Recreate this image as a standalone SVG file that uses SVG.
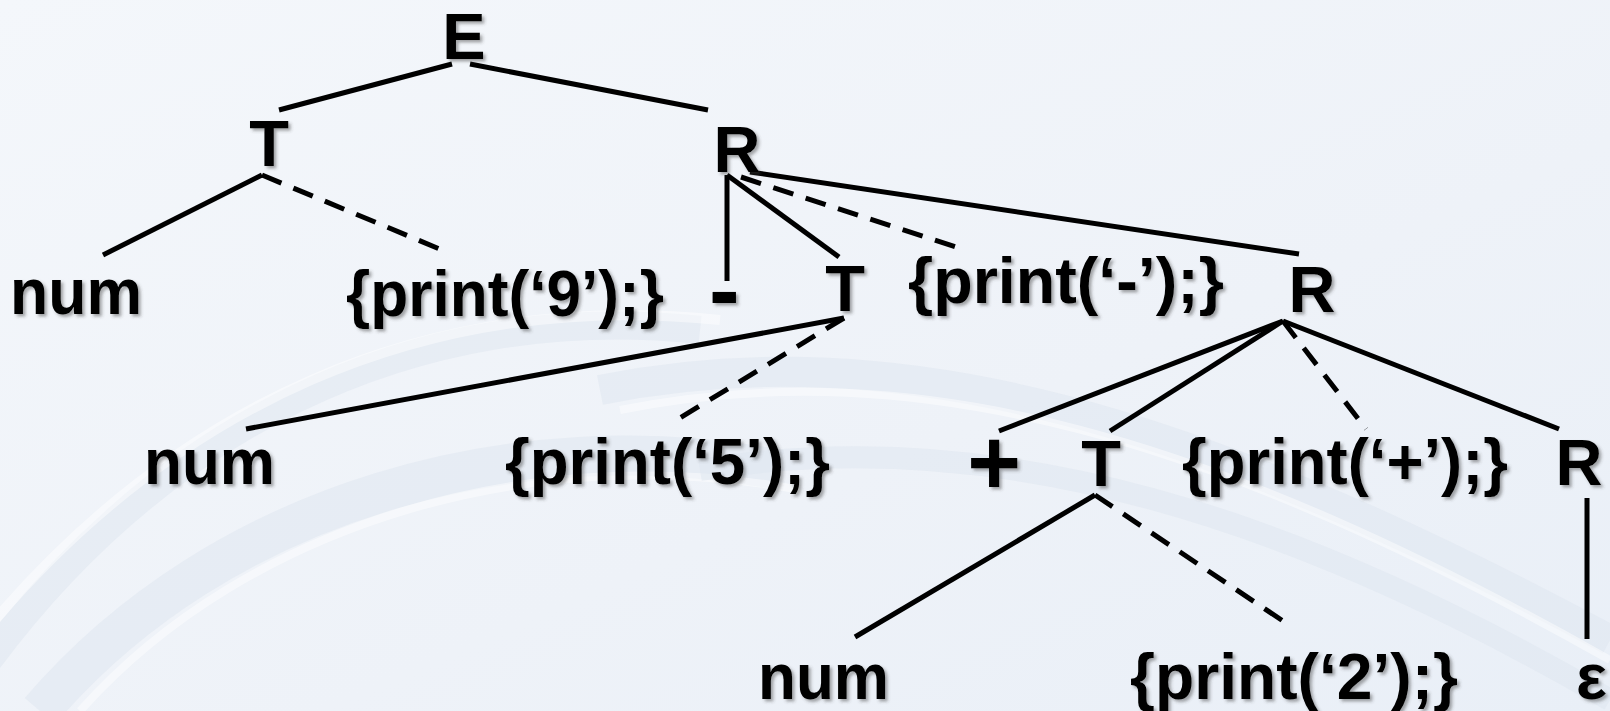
<svg xmlns="http://www.w3.org/2000/svg" width="1610" height="711" viewBox="0 0 1610 711">
<defs>
<linearGradient id="bg" x1="0" y1="0" x2="1" y2="1">
<stop offset="0" stop-color="#f4f7fb"/>
<stop offset="0.6" stop-color="#eef2f8"/>
<stop offset="1" stop-color="#e9eff7"/>
</linearGradient>
<filter id="sh" x="-10%" y="-10%" width="130%" height="140%">
<feDropShadow dx="2.5" dy="2.5" stdDeviation="1.5" flood-color="#404040" flood-opacity="0.45"/>
</filter>
<style>
.t{font-family:"Liberation Sans",Arial,sans-serif;font-weight:bold;font-size:65px;fill:#000;filter:url(#sh)}
.c{text-anchor:middle}
.big{font-size:92px}
.ln{stroke:#000;stroke-width:5;fill:none;stroke-linecap:butt}
.d{stroke-dasharray:21 13}
.sw{fill:none;stroke:#ffffff;stroke-opacity:0.45}
.sb{fill:none;stroke:#dde5f0;stroke-opacity:0.5}
</style>
</defs>
<rect width="1610" height="711" fill="url(#bg)"/>
<g id="background-swooshes">
<path class="sb" stroke-width="28" d="M-40 700 C 150 420, 420 300, 700 330"/>
<path class="sw" stroke-width="10" d="M-30 650 C 170 400, 430 290, 720 320"/>
<path class="sb" stroke-width="40" d="M40 711 C 220 500, 520 420, 780 470"/>
<path class="sw" stroke-width="8" d="M80 711 C 250 520, 540 440, 800 490"/>
<path class="sb" stroke-width="30" d="M600 390 C 900 330, 1200 420, 1610 640"/>
<path class="sw" stroke-width="8" d="M620 410 C 920 350, 1220 440, 1610 660"/>
<path class="sb" stroke-width="22" d="M700 470 C 1000 420, 1300 520, 1610 700"/>
</g>
<g id="connectors">
<line class="ln" x1="279" y1="110" x2="452" y2="64"/>
<line class="ln" x1="470" y1="64" x2="708" y2="110"/>
<line class="ln" x1="262" y1="175" x2="103" y2="255"/>
<line class="ln d" x1="262" y1="175" x2="442" y2="250"/>
<line class="ln" x1="727" y1="175" x2="727" y2="281"/>
<line class="ln" x1="727" y1="175" x2="839" y2="257"/>
<line class="ln d" x1="741" y1="177" x2="965" y2="250"/>
<line class="ln" x1="750" y1="172" x2="1299" y2="254"/>
<line class="ln" x1="844" y1="318" x2="246" y2="429"/>
<line class="ln d" x1="844" y1="318" x2="675" y2="421"/>
<line class="ln" x1="1283" y1="321" x2="999" y2="431"/>
<line class="ln" x1="1283" y1="321" x2="1110" y2="431"/>
<line class="ln d" x1="1283" y1="321" x2="1366" y2="429"/>
<line class="ln" x1="1283" y1="321" x2="1559" y2="429"/>
<line class="ln" x1="1095" y1="495" x2="855" y2="637"/>
<line class="ln d" x1="1095" y1="495" x2="1283" y2="621"/>
<line class="ln" x1="1587" y1="498" x2="1587" y2="639"/>
</g>
<g id="n-E"><text class="t c" x="464" y="59">E</text></g>
<g id="n-T1"><text class="t c" x="269" y="166">T</text></g>
<g id="n-R1"><text class="t c" x="737" y="172">R</text></g>
<g id="n-num1"><text class="t" x="10" y="314" textLength="132" lengthAdjust="spacingAndGlyphs">num</text></g>
<g id="n-print9"><text class="t" x="346" y="316" textLength="318" lengthAdjust="spacingAndGlyphs">{print(‘9’);}</text></g>
<g id="n-minus"><text class="t big" x="709" y="322">-</text></g>
<g id="n-T2"><text class="t c" x="845" y="311">T</text></g>
<g id="n-printminus"><text class="t" x="908" y="303" textLength="316" lengthAdjust="spacingAndGlyphs">{print(‘-’);}</text></g>
<g id="n-R2"><text class="t c" x="1312" y="312">R</text></g>
<g id="n-num2"><text class="t" x="144" y="484" textLength="131" lengthAdjust="spacingAndGlyphs">num</text></g>
<g id="n-print5"><text class="t" x="505" y="484" textLength="325" lengthAdjust="spacingAndGlyphs">{print(‘5’);}</text></g>
<g id="n-plus"><text class="t c big" x="994" y="494">+</text></g>
<g id="n-T3"><text class="t c" x="1101" y="486">T</text></g>
<g id="n-printplus"><text class="t" x="1182" y="484" textLength="326" lengthAdjust="spacingAndGlyphs">{print(‘+’);}</text></g>
<g id="n-R3"><text class="t c" x="1579" y="485">R</text></g>
<g id="n-num3"><text class="t" x="758" y="699" textLength="131" lengthAdjust="spacingAndGlyphs">num</text></g>
<g id="n-print2"><text class="t" x="1130" y="699" textLength="328" lengthAdjust="spacingAndGlyphs">{print(‘2’);}</text></g>
<g id="n-eps"><text class="t" x="1576" y="699">ε</text></g>
</svg>
